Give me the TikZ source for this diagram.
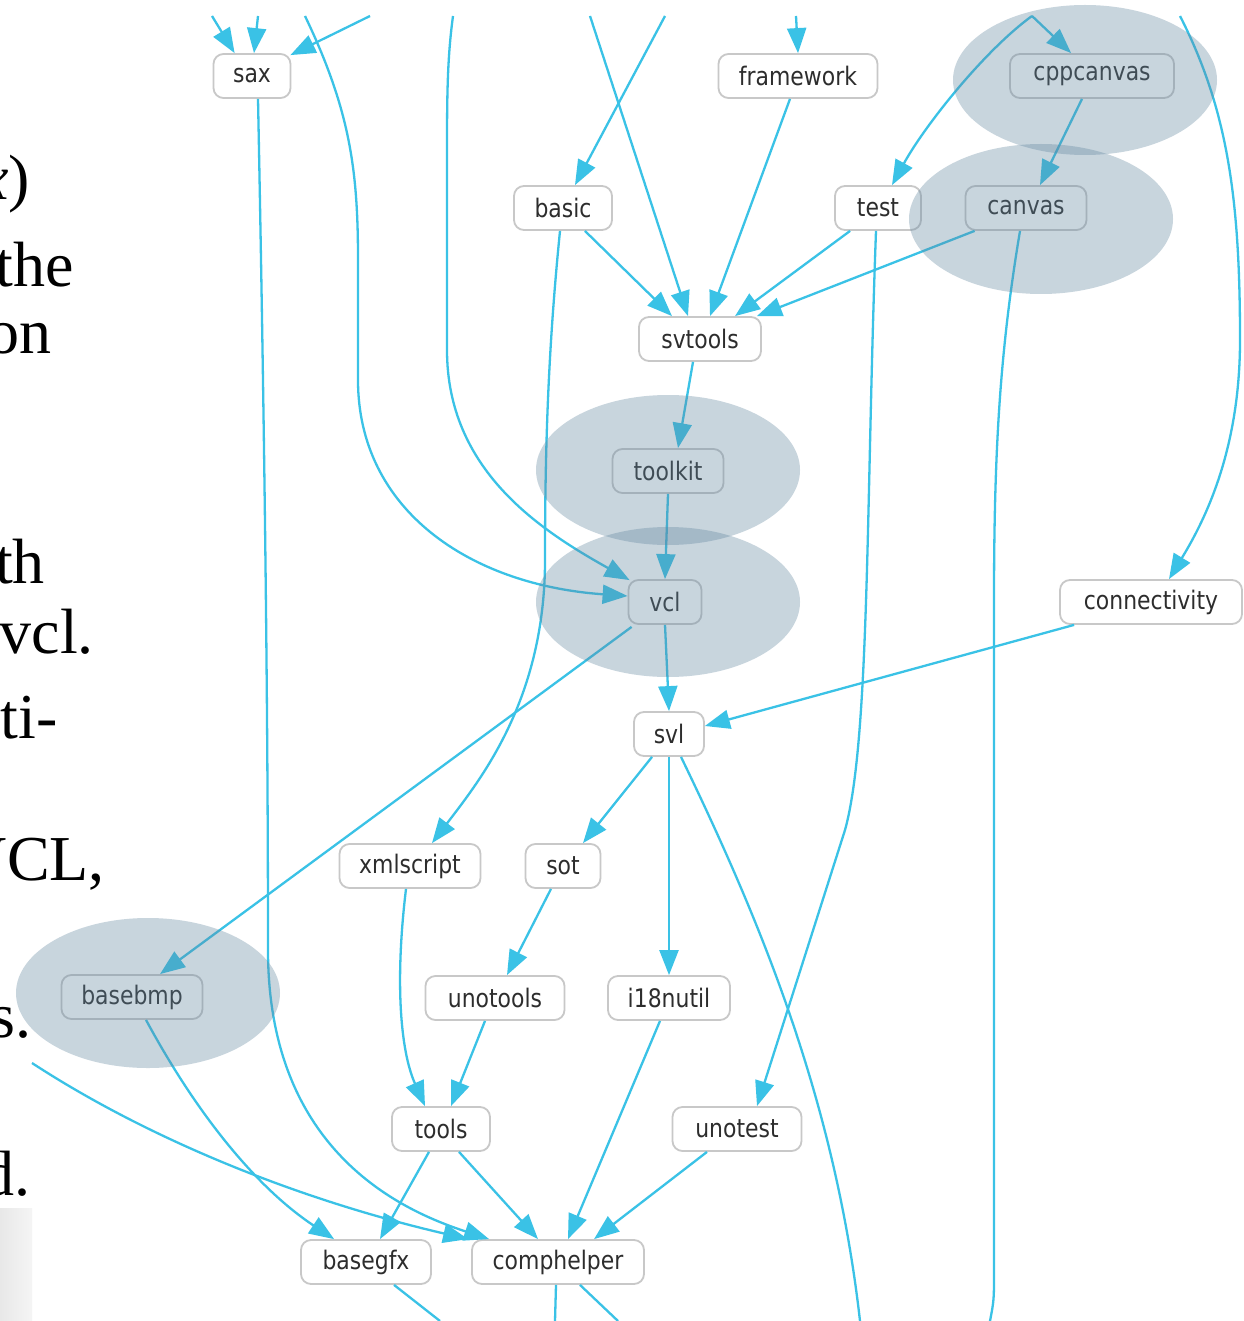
\documentclass[tikz,border=0pt]{standalone}
\usepackage{fontspec}
\setmainfont{Liberation Serif}
\newfontfamily\nodefont[FakeStretch=0.86]{DejaVu Sans}
\usetikzlibrary{arrows.meta,calc,shapes.geometric}
\definecolor{edgec}{RGB}{58,194,230}
\definecolor{boxc}{RGB}{200,200,200}
\definecolor{txtc}{RGB}{45,45,45}
\definecolor{grpc}{RGB}{98,135,160}
\begin{document}
\begin{tikzpicture}[x=1pt,y=-1pt,
  mod/.style={draw=boxc, line width=1.8pt, rounded corners=10pt, fill=white,
    minimum height=44pt, inner sep=0pt, font=\nodefont\fontsize{25.5}{28}\selectfont, text=txtc},
  dep/.style={draw=edgec, line width=2.3pt, -{Triangle[length=25pt,width=19pt]}},
  plain/.style={draw=edgec, line width=2.3pt},
  grp/.style={ellipse, fill=grpc, fill opacity=0.35, draw=none,
    minimum width=264pt, minimum height=150pt, inner sep=0pt},
  slide/.style={anchor=base east, inner sep=0pt, font=\fontsize{64}{70}\selectfont, text=black}
]
\fill[white] (0,0) rectangle (1243,1321);
\useasboundingbox (0,0) rectangle (1243,1321);
\shade[left color=black!9, right color=black!4] (0,1208) rectangle (32,1321);

% slide text fragments
\node[slide] (s1) at (30,200) {{\itshape x})};
\node[slide] (s2) at (74,287) {the};
\node[slide] (s3) at (52,353) {on};
\node[slide] (s4) at (45,583) {th};
\node[slide] (s5) at (94,653) {vcl.};
\node[slide] (s6) at (58,738) {ti-};
\node[slide] (s7) at (105,880) {VCL,};
\node[slide] (s8) at (32,1037) {s.};
\node[slide] (s9) at (31,1195) {d.};

% free ends
\coordinate (t1) at (212,16);
\coordinate (t2) at (258,16);
\coordinate (t3) at (370,16);
\coordinate (t4) at (305,16);
\coordinate (t5) at (453,16);
\coordinate (t6) at (590,16);
\coordinate (t7) at (665,16);
\coordinate (t8) at (796,16);
\coordinate (t9) at (1032,16);
\coordinate (t10) at (1180,16);
\coordinate (l1) at (32,1063);
\coordinate (b1) at (990,1321);
\coordinate (b2) at (860,1321);
\coordinate (b3) at (555,1321);
\coordinate (b4) at (618,1321);
\coordinate (b5) at (440,1321);

% modules
\node[mod, minimum width=77pt] (sax) at (252,76) {sax};
\node[mod, minimum width=159pt] (framework) at (798,76) {framework};
\node[mod, minimum width=164pt] (cppcanvas) at (1092,76) {cppcanvas};
\node[mod, minimum width=98pt] (basic) at (563,208) {basic};
\node[mod, minimum width=86pt] (test) at (878,208) {test};
\node[mod, minimum width=121pt] (canvas) at (1026,208) {canvas};
\node[mod, minimum width=122pt] (svtools) at (700,339) {svtools};
\node[mod, minimum width=111pt] (toolkit) at (668,471) {toolkit};
\node[mod, minimum width=73pt] (vcl) at (665,602) {vcl};
\node[mod, minimum width=182pt] (connectivity) at (1151,602) {connectivity};
\node[mod, minimum width=70pt] (svl) at (669,734) {svl};
\node[mod, minimum width=141pt] (xmlscript) at (410,866) {xmlscript};
\node[mod, minimum width=75pt] (sot) at (563,866) {sot};
\node[mod, minimum width=141pt] (basebmp) at (132,997) {basebmp};
\node[mod, minimum width=139pt] (unotools) at (495,998) {unotools};
\node[mod, minimum width=122pt] (i18nutil) at (669,998) {i18nutil};
\node[mod, minimum width=98pt] (tools) at (441,1129) {tools};
\node[mod, minimum width=129pt] (unotest) at (737,1129) {unotest};
\node[mod, minimum width=130pt] (basegfx) at (366,1262) {basegfx};
\node[mod, minimum width=172pt] (comphelper) at (558,1262) {comphelper};

% incoming from above
\draw[dep] (t1) -- ($(sax.north west)+(22,0)$);
\draw[dep] (t2) -- ($(sax.north)+(2,0)$);
\draw[dep] (t3) -- ($(sax.north east)+(-1,2)$);
\draw[dep] (t4) .. controls (350,110) and (358,170) .. (358,260) -- (358,380)
  .. controls (358,510) and (470,585) .. ($(vcl.west)+(0,-6)$);
\draw[dep] (t5) .. controls (447,60) and (447,100) .. (447,160) -- (447,350)
  .. controls (447,470) and (540,530) .. ($(vcl.north west)+(2,1)$);
\draw[dep] (t6) -- ($(svtools.north)+(-12,0)$);
\draw[dep] (t7) -- ($(basic.north)+(12,0)$);
\draw[dep] (t8) -- (framework.north);
\draw[dep] (t9) -- ($(cppcanvas.north west)+(62,0)$);
\draw[dep] (t9) .. controls (985,50) and (925,125) .. ($(test.north)+(14,0)$);
\draw[dep] (t10) .. controls (1228,110) and (1240,200) .. (1240,340)
  .. controls (1240,450) and (1205,520) .. ($(connectivity.north)+(18,0)$);

% internal
\draw[dep] ($(basic.south east)+(-28,0)$) -- ($(svtools.north)+(-28,0)$);
\draw[dep] ($(framework.south)+(-8,0)$) -- ($(svtools.north)+(10,0)$);
\draw[dep] ($(test.south west)+(16,0)$) -- ($(svtools.north)+(35,0)$);
\draw[dep] ($(canvas.south west)+(10,0)$) -- ($(svtools.north east)+(-5,0)$);
\draw[dep] ($(cppcanvas.south)+(-10,0)$) -- ($(canvas.north)+(14,0)$);
\draw[dep] ($(svtools.south)+(-7,0)$) -- ($(toolkit.north)+(10,0)$);
\draw[dep] (toolkit.south) -- (vcl.north);
\draw[dep] (vcl.south) -- (svl.north);
\draw[dep] ($(vcl.south west)+(4,2)$) -- ($(basebmp.north)+(28,0)$);
\draw[dep] ($(connectivity.south west)+(15,0)$) -- ($(svl.east)+(0,-8)$);
\draw[dep] ($(svl.south)+(-17,0)$) -- ($(sot.north)+(20,0)$);
\draw[dep] (svl.south) -- (i18nutil.north);
\draw[plain] ($(svl.south)+(12,0)$) .. controls (760,920) and (835,1100) .. (b2);
\draw[dep] ($(sot.south)+(-12,0)$) -- ($(unotools.north)+(12,0)$);
\draw[dep] ($(xmlscript.south)+(-4,0)$) .. controls (395,980) and (400,1050) .. ($(tools.north)+(-16,0)$);
\draw[dep] ($(unotools.south)+(-10,0)$) -- ($(tools.north)+(10,0)$);
\draw[dep] ($(tools.south)+(-12,0)$) -- ($(basegfx.north)+(14,0)$);
\draw[dep] ($(tools.south)+(18,0)$) -- ($(comphelper.north)+(-20,0)$);
\draw[dep] ($(i18nutil.south)+(-9,0)$) -- ($(comphelper.north)+(10,0)$);
\draw[dep] ($(unotest.south)+(-30,0)$) -- ($(comphelper.north)+(36,0)$);
\draw[dep] ($(test.south)+(-2,0)$) .. controls (866,500) and (870,740) .. (845,830)
  -- ($(unotest.north)+(20,0)$);
\draw[plain] ($(canvas.south)+(-6,0)$) .. controls (1000,350) and (994,450) .. (994,600)
  -- (994,1270) .. controls (994,1300) .. (b1);
\draw[dep] ($(basebmp.south)+(14,0)$) .. controls (200,1120) and (260,1190) .. ($(basegfx.north west)+(34,0)$);
\draw[dep] ($(sax.south)+(6,0)$) .. controls (264,400) and (268,700) .. (268,950)
  .. controls (268,1150) and (400,1210) .. ($(comphelper.north west)+(18,0)$);
\draw[dep] (l1) .. controls (150,1140) and (300,1200) .. ($(comphelper.north west)+(-3,0)$);
\draw[dep] ($(basic.south)+(-3,0)$) .. controls (548,350) and (545,450) .. (545,560)
  .. controls (545,700) and (480,780) .. ($(xmlscript.north)+(22,0)$);
\draw[plain] ($(comphelper.south)+(-2,0)$) -- (b3);
\draw[plain] ($(comphelper.south)+(22,0)$) -- (b4);
\draw[plain] ($(basegfx.south)+(28,0)$) -- (b5);

% highlight groups
\node[grp] (gcpp) at (1085,80) {};
\node[grp] (gcanvas) at (1041,219) {};
\node[grp] (gtoolkit) at (668,470) {};
\node[grp] (gvcl) at (668,602) {};
\node[grp] (gbasebmp) at (148,993) {};
\end{tikzpicture}
\end{document}
